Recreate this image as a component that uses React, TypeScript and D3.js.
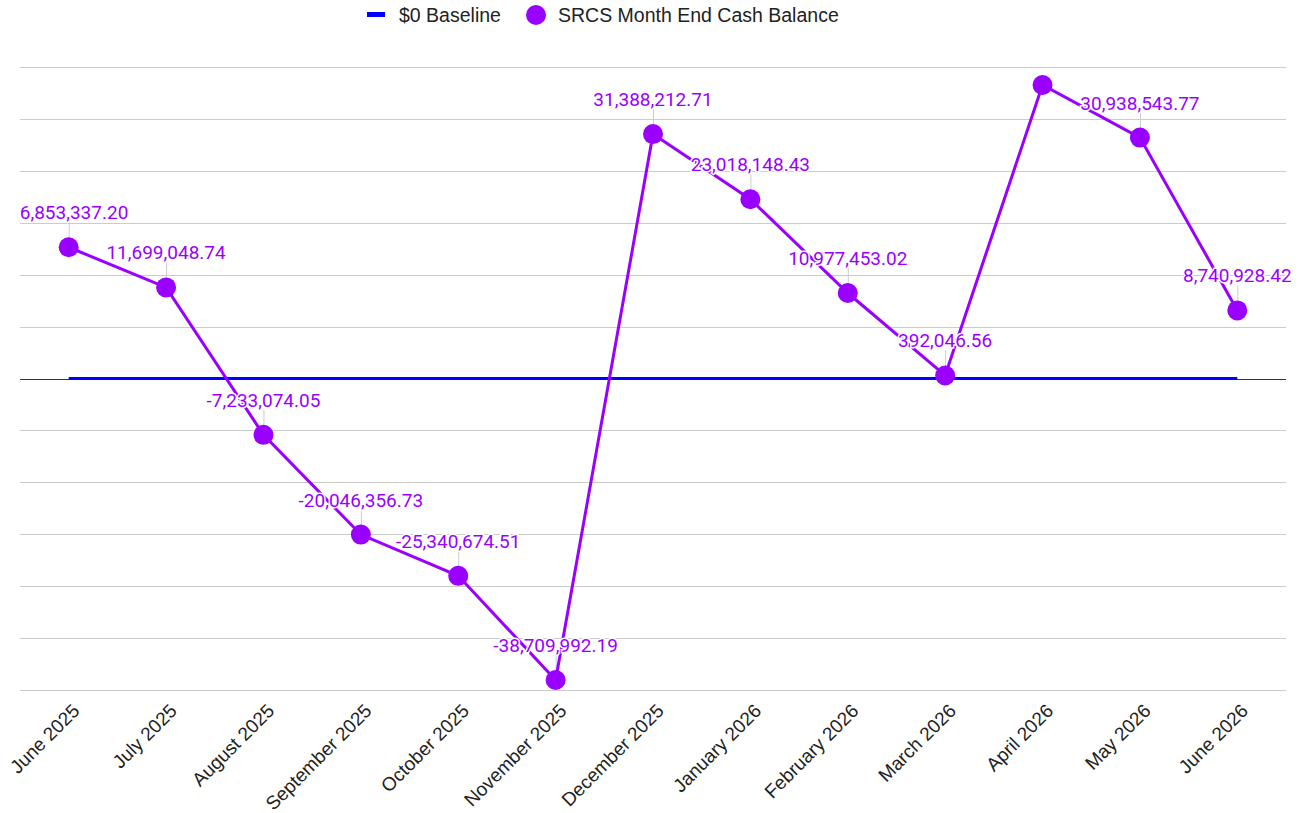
import { useEffect, useRef } from 'react';
import * as d3 from 'd3';

const months = [
    'June 2025', 'July 2025', 'August 2025', 'September 2025', 'October 2025', 'November 2025',
    'December 2025', 'January 2026', 'February 2026', 'March 2026', 'April 2026', 'May 2026', 'June 2026',
];

// month end balances (april's label is hidden in the original, value read from the point)
const cashBalance = [
    16853337.20, 11699048.74, -7233074.05, -20046356.73, -25340674.51, -38709992.19,
    31388212.71, 23018148.43, 10977453.02, 392046.56, 37690000.00, 30938543.77, 8740928.42,
];

const baseline = [0, 0, 0, 0, 0, 0, 0, 0, 0, 0, 0, 0, 0];

const yTicks = [-40e6, -33.333e6, -26.667e6, -20e6, -13.333e6, -6.667e6, 0, 6.667e6, 13.333e6, 20e6, 26.667e6, 33.333e6, 40e6];

const legendNames = ['$0 Baseline', 'SRCS Month End Cash Balance'];

const PURPLE = '#9900ff';
const BLUE = '#0000ff';

const App = () => {
    const chartRef = useRef<SVGSVGElement | null>(null);
    const width = 1307;
    const height = 813;

    useEffect(() => {
        const svg = d3.select(chartRef.current);
        svg.selectAll('*').remove();

        const left = 20, right = 1286, top = 67, bottom = 690;

        const xScale = d3.scaleBand<string>()
            .domain(months)
            .range([left, right]);
        const xPos = (m: string) => (xScale(m) ?? 0) + xScale.bandwidth() / 2;

        const yScale = d3.scaleLinear()
            .domain([-40e6, 40e6])
            .range([bottom, top]);

        svg.append('rect').attr('width', width).attr('height', height).attr('fill', 'white');

        // annotations get cut at the left edge of the plot, like the original
        svg.append('defs').append('clipPath').attr('id', 'plotClip')
            .append('rect')
            .attr('x', left).attr('y', top)
            .attr('width', width - left).attr('height', height - top);

        // gridlines
        svg.append('g')
            .selectAll('line')
            .data(yTicks)
            .join('line')
            .attr('x1', left).attr('x2', right)
            .attr('y1', d => Math.round(yScale(d)) + 0.5)
            .attr('y2', d => Math.round(yScale(d)) + 0.5)
            .attr('stroke', '#cccccc')
            .attr('stroke-width', 1);

        svg.append('line')
            .attr('x1', left).attr('x2', right)
            .attr('y1', Math.round(yScale(0)) + 0.5).attr('y2', Math.round(yScale(0)) + 0.5)
            .attr('stroke', '#333333')
            .attr('stroke-width', 1);

        // x axis labels
        svg.append('g')
            .selectAll('text')
            .data(months)
            .join('text')
            .attr('transform', d => `translate(${xPos(d) + 12}, ${bottom + 22}) rotate(-45)`)
            .attr('text-anchor', 'end')
            .attr('font-family', '"Liberation Sans", Arial, sans-serif')
            .attr('font-size', 19)
            .attr('fill', '#222222')
            .text(d => d);

        const idx = d3.range(months.length);
        // labels that would sit above the plot top are dropped (april)
        const labelled = idx.filter(i => yScale(cashBalance[i]) - 41 >= top);

        // baseline series
        svg.append('path')
            .datum(idx)
            .attr('fill', 'none')
            .attr('stroke', BLUE)
            .attr('stroke-width', 3)
            .attr('d', d3.line<number>()
                .x(i => xPos(months[i]))
                .y(i => yScale(baseline[i])));

        // annotation stems
        svg.append('g')
            .selectAll('line')
            .data(labelled)
            .join('line')
            .attr('x1', i => xPos(months[i]) + 0.5)
            .attr('x2', i => xPos(months[i]) + 0.5)
            .attr('y1', i => yScale(cashBalance[i]) - 25)
            .attr('y2', i => yScale(cashBalance[i]))
            .attr('stroke', '#cccccc')
            .attr('stroke-width', 1);

        // cash balance line
        svg.append('path')
            .datum(idx)
            .attr('fill', 'none')
            .attr('stroke', PURPLE)
            .attr('stroke-width', 3)
            .attr('d', d3.line<number>()
                .x(i => xPos(months[i]))
                .y(i => yScale(cashBalance[i])));

        svg.append('g')
            .selectAll('circle')
            .data(idx)
            .join('circle')
            .attr('cx', i => xPos(months[i]))
            .attr('cy', i => yScale(cashBalance[i]))
            .attr('r', 10)
            .attr('fill', PURPLE);

        // value labels
        const fmt = d3.formatLocale({ decimal: '.', thousands: ',', grouping: [3], currency: ['$', ''], minus: '-' }).format(',.2f');
        svg.append('g')
            .attr('clip-path', 'url(#plotClip)')
            .selectAll('text')
            .data(labelled)
            .join('text')
            .attr('x', i => xPos(months[i]))
            .attr('y', i => yScale(cashBalance[i]) - 28)
            .attr('text-anchor', 'middle')
            .attr('font-family', 'Roboto, sans-serif')
            .attr('font-size', 19)
            .attr('fill', PURPLE)
            .attr('stroke', 'white')
            .attr('stroke-width', 3)
            .attr('paint-order', 'stroke')
            .text(i => fmt(cashBalance[i]));

        // legend
        const legend = svg.append('g').attr('font-family', '"Liberation Sans", Arial, sans-serif').attr('font-size', 19.5).attr('fill', '#222222');
        legend.append('rect').attr('x', 367).attr('y', 12).attr('width', 18).attr('height', 5).attr('fill', BLUE);
        legend.append('text').attr('x', 399).attr('y', 22).text(legendNames[0]);
        legend.append('circle').attr('cx', 536).attr('cy', 15).attr('r', 10).attr('fill', PURPLE);
        legend.append('text').attr('x', 558).attr('y', 22).text(legendNames[1]);
    }, []);

    return (
        <svg ref={chartRef} width={width} height={height} style={{ position: 'absolute', left: 0, top: 0 }}></svg>
    );
};

export default App;
